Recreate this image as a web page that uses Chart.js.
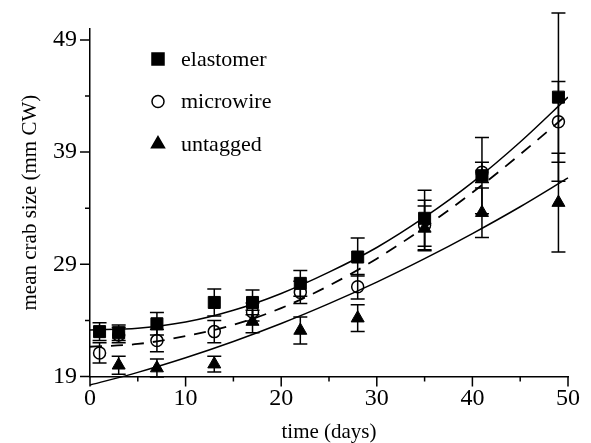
<!DOCTYPE html>
<html>
<head>
<meta charset="utf-8">
<script src="https://cdn.jsdelivr.net/npm/chart.js@4.4.0/dist/chart.umd.min.js"></script>
<style>
  html, body { margin: 0; padding: 0; background: #fff; }
</style>
</head>
<body>
<canvas id="chart-crab" width="591" height="443"></canvas>
<script>
// sampling days
var days = [1, 3, 7, 13, 17, 22, 28, 35, 41, 49];
var daysUntagged = [3, 7, 13, 17, 22, 28, 35, 41, 49];

// mean crab size (mm CW) and error bars
var elastomer = [23.0, 22.9, 23.7, 25.6, 25.6, 27.3, 29.65, 33.1, 36.9, 43.9];
var elastomerErr = [0.8, 0.7, 1.0, 1.2, 1.1, 1.15, 1.7, 2.5, 3.4, 7.5];
var microwire = [21.1, 22.7, 22.2, 23.0, 24.75, 26.5, 27.0, 32.5, 37.2, 41.7];
var microwireErr = [0.9, 0.7, 1.0, 1.0, 0.8, 1.0, 1.1, 2.2, 0.9, 3.6];
var untagged = [20.0, 19.75, 20.1, 23.9, 23.1, 24.2, 32.2, 33.6, 34.5];
var untaggedErr = [0.8, 0.8, 0.7, 1.0, 1.2, 1.2, 2.0, 2.2, 4.4];

// fitted curves
var fitDays = [0, 5, 10, 15, 20, 25, 30, 35, 40, 45, 50];
var elastomerFit = [23.14, 23.3, 23.85, 24.9, 26.4, 28.3, 30.5, 33.2, 36.3, 39.9, 43.9];
var microwireFit = [21.65, 21.9, 22.6, 23.6, 25.1, 27.1, 29.5, 32.3, 35.4, 38.8, 42.4];
var untaggedFit = [18.24, 19.37, 20.67, 22.12, 23.72, 25.49, 27.41, 29.5, 31.74, 34.13, 36.7];

// axis ticks
var xTicks = [0, 10, 20, 30, 40, 50];
var xMinor = [5, 15, 25, 35, 45];
var yTicks = [19, 29, 39, 49];
var yMinor = [24, 34, 44];

var legendItems = [
  { label: "elastomer", style: "rect", radius: 8.5, fill: "#000" },
  { label: "microwire", style: "circle", radius: 6, fill: "rgba(0,0,0,0)" },
  { label: "untagged", style: "triangle", radius: 7.5, fill: "#000" }
];

var serif = "'Liberation Serif', 'Times New Roman', serif";

function pts(xs, ys) {
  return xs.map(function (x, i) { return { x: x, y: ys[i] }; });
}

// error bars, drawn under the markers
var errorBars = {
  id: "errorBars",
  beforeDatasetsDraw: function (chart) {
    var ctx = chart.ctx, sx = chart.scales.x, sy = chart.scales.y;
    ctx.save();
    ctx.strokeStyle = "#000";
    ctx.lineWidth = 1.5;
    chart.data.datasets.forEach(function (ds) {
      if (!ds.err) return;
      ds.data.forEach(function (p, j) {
        var px = sx.getPixelForValue(p.x);
        var top = sy.getPixelForValue(p.y + ds.err[j]);
        var bot = sy.getPixelForValue(p.y - ds.err[j]);
        ctx.beginPath();
        ctx.moveTo(px, top); ctx.lineTo(px, bot);
        ctx.moveTo(px - 7, top); ctx.lineTo(px + 7, top);
        ctx.moveTo(px - 7, bot); ctx.lineTo(px + 7, bot);
        ctx.stroke();
      });
    });
    ctx.restore();
  }
};

// outside tick marks + in-plot legend
var axisExtras = {
  id: "axisExtras",
  afterDraw: function (chart) {
    var ctx = chart.ctx, sx = chart.scales.x, sy = chart.scales.y;
    var area = chart.chartArea;
    ctx.save();
    ctx.strokeStyle = "#000";
    ctx.lineWidth = 1.5;
    ctx.beginPath();
    xTicks.concat(xMinor).forEach(function (v) {
      var px = sx.getPixelForValue(v);
      var len = xTicks.indexOf(v) >= 0 ? 10 : 5;
      ctx.moveTo(px, area.bottom); ctx.lineTo(px, area.bottom + len);
    });
    yTicks.concat(yMinor).forEach(function (v) {
      var py = sy.getPixelForValue(v);
      var len = yTicks.indexOf(v) >= 0 ? 10 : 5;
      ctx.moveTo(area.left, py); ctx.lineTo(area.left - len, py);
    });
    ctx.stroke();

    // legend
    ctx.font = "22px " + serif;
    ctx.textBaseline = "middle";
    ctx.textAlign = "left";
    legendItems.forEach(function (it, i) {
      var y = 59 + i * 42.5;
      ctx.fillStyle = it.fill;
      ctx.strokeStyle = "#000";
      ctx.lineWidth = 1.5;
      Chart.helpers.drawPoint(ctx, { pointStyle: it.style, radius: it.radius, rotation: 0, borderWidth: 1.5 }, 158, y);
      ctx.fillStyle = "#000";
      ctx.fillText(it.label, 181, y + 1);
    });
    ctx.restore();
  }
};

var tickFont = { family: serif, size: 24 };
var titleFont = { family: serif, size: 21, lineHeight: 1 };

new Chart(document.getElementById("chart-crab").getContext("2d"), {
  type: "scatter",
  data: {
    datasets: [
      {
        label: "elastomer",
        data: pts(days, elastomer),
        err: elastomerErr,
        pointStyle: "rect",
        pointRadius: 8.5,
        backgroundColor: "#000",
        borderColor: "#000",
        borderWidth: 1
      },
      {
        label: "microwire",
        data: pts(days, microwire),
        err: microwireErr,
        pointStyle: "circle",
        pointRadius: 6,
        backgroundColor: "rgba(0,0,0,0)",
        borderColor: "#000",
        borderWidth: 1.5
      },
      {
        label: "untagged",
        data: pts(daysUntagged, untagged),
        err: untaggedErr,
        pointStyle: "triangle",
        pointRadius: 7.5,
        backgroundColor: "#000",
        borderColor: "#000",
        borderWidth: 1
      },
      {
        label: "elastomer fit",
        data: pts(fitDays, elastomerFit),
        showLine: true,
        pointRadius: 0,
        borderColor: "#000",
        borderWidth: 1.5,
        cubicInterpolationMode: "monotone"
      },
      {
        label: "microwire fit",
        data: pts(fitDays, microwireFit),
        showLine: true,
        pointRadius: 0,
        borderColor: "#000",
        borderWidth: 1.8,
        borderDash: [12, 9],
        cubicInterpolationMode: "monotone"
      },
      {
        label: "untagged fit",
        data: pts(fitDays, untaggedFit),
        showLine: true,
        pointRadius: 0,
        borderColor: "#000",
        borderWidth: 1.5,
        cubicInterpolationMode: "monotone",
        clip: false
      }
    ]
  },
  options: {
    responsive: false,
    animation: false,
    devicePixelRatio: 1,
    layout: { padding: { left: 0, top: 28.7, right: 23, bottom: 0 } },
    plugins: {
      legend: { display: false },
      tooltip: { enabled: false }
    },
    scales: {
      x: {
        type: "linear",
        min: 0,
        max: 50,
        afterBuildTicks: function (s) { s.ticks = xTicks.map(function (v) { return { value: v }; }); },
        afterFit: function (s) { s.height = 66.5; },
        grid: { display: false, drawTicks: false },
        border: { display: true, color: "#000", width: 1.5 },
        ticks: { color: "#000", font: tickFont, padding: 8, maxRotation: 0 },
        title: { display: true, text: "time (days)", color: "#000", font: titleFont, padding: { top: 0, bottom: 0 } }
      },
      y: {
        type: "linear",
        min: 19,
        max: 50,
        afterBuildTicks: function (s) { s.ticks = yTicks.map(function (v) { return { value: v }; }); },
        afterFit: function (s) { s.width = 90; },
        grid: { display: false, drawTicks: false },
        border: { display: true, color: "#000", width: 1.5 },
        ticks: { color: "#000", font: tickFont, padding: 13 },
        title: { display: true, text: "mean crab size (mm CW)", color: "#000", font: titleFont, padding: { top: 19.5, bottom: 0 } }
      }
    }
  },
  plugins: [errorBars, axisExtras]
});
</script>
</body>
</html>
